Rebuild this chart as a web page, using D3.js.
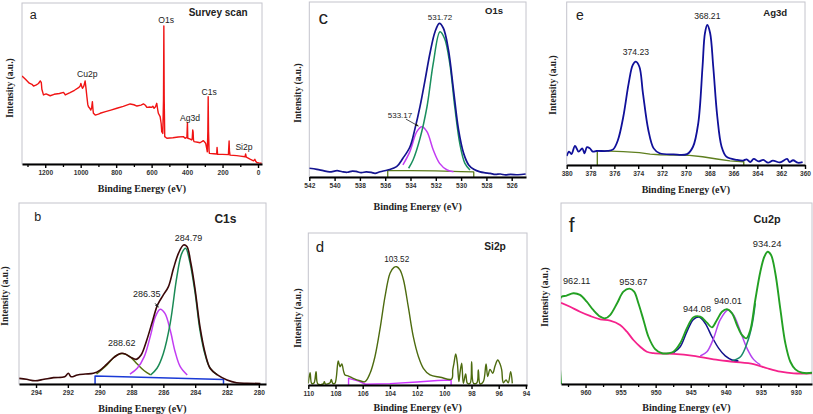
<!DOCTYPE html>
<html><head><meta charset="utf-8">
<script src="https://cdn.jsdelivr.net/npm/d3@7"></script>
<style>body{margin:0;background:#fff}svg{display:block}</style>
</head><body><svg id="chart" width="813" height="414"></svg>
<script>
// ---------- DATA (binding energy eV, intensity % of panel height) ----------
const surveyScan = [[1331,54.7],[1310,52.5],[1290,50.2],[1275,49.5],[1266,48.4],[1250,49.2],[1238,50],[1228,51.6],[1222,50.5],[1219,46.4],[1210,42.9],[1195,43.5],[1172,42.4],[1150,43.3],[1120,43.8],[1097,44.5],[1090,43.5],[1087,42.9],[1060,44.3],[1035,45.8],[1012,47.4],[1003,48.4],[999,50.1],[994,48.2],[990,47],[982,48.5],[975,51.6],[970,47],[965,41.8],[960,37],[956,35.6],[950,34.8],[943,33.5],[938,35],[934,38.7],[930,33],[928,31.5],[918,30.4],[900,31],[890,31.5],[860,32.5],[830,33.5],[796,34.6],[760,35.8],[721,37.3],[700,36.8],[683,36],[660,36.6],[646,37.3],[635,36.5],[627,35.2],[610,35.4],[599,35.2],[593,35.9],[586,34.6],[578,35.5],[571,37.7],[566,34],[562,31.5],[552,29.4],[546,25],[543,20.1],[537,19],[533,40],[531,85.7],[529,40],[526,17],[514,16],[480,16.3],[450,16.8],[421,17],[411,16],[401,16.5],[398,25.7],[396,16],[385,15.6],[374,14.9],[371,16],[368,21.1],[366,20],[364,15],[361,13.9],[340,13.5],[327,13.2],[315,14],[308,14.5],[300,13.5],[295,12.8],[290,10],[286,7.6],[283,20],[281,41.8],[279,20],[276,8],[274,6.6],[250,6.4],[233,6.2],[231,10.3],[228,6],[200,6],[167,5.8],[165,10],[163,14.3],[161,8],[158,5.5],[120,5.2],[100,4.9],[73,4.5],[70,6.2],[66,4.2],[45,3],[25,2],[18,2.9],[12,1.5],[7,0.9],[-5,0.7],[-20,0.5]];

const o1sEnvelope = [[542,5],[541.4,4.4],[540.9,3.6],[540.4,2.9],[539.8,3.6],[539.4,3],[539,2.7],[538.6,3.4],[538.3,3.2],[537.9,2.5],[537.5,2.9],[537.1,2.6],[536.8,2.1],[536.4,3],[535.8,4],[535.1,5.9],[534.6,10.7],[534.04,17.3],[533.64,27.8],[533.25,40.2],[532.85,55.4],[532.46,70.7],[532.06,83],[531.72,87.8],[531.4,85],[531,72.6],[530.6,49.7],[530.2,26.9],[529.8,13.5],[529.4,6.9],[529,4.4],[528.5,2.9],[528.1,2.4],[527.7,2.1],[527.3,1.5],[526.9,1.7],[526.5,1.2],[526.1,1.5],[525.5,1.3],[524.9,1.7]];
const o1sLattice = [[534.15,5],[533.8,9.7],[533.25,22],[532.7,40],[532.2,65],[531.67,83],[531.3,79],[530.9,65],[530.5,40],[530.1,19],[529.7,7.8],[529.3,4]];
const o1sHydroxyl = [[534.6,6.9],[534.05,14.5],[533.5,25.9],[533.1,28.7],[532.7,25.9],[532.2,15.4],[531.7,7.8],[531.1,4],[530.6,3]];
const o1sBackground = [[535.8,0],[535.8,3.6],[534,3.7],[532,3.5],[530,3.1],[529,2.9],[529,0]];

const ag3dSpectrum = [[380,5.5],[379.8,8.2],[379.6,6.7],[379.3,11.7],[379.0,8.2],[378.7,10.2],[378.5,7.2],[378.3,11],[378.05,10.2],[377.8,8.2],[377.5,8.6],[376.6,8.6],[376.1,9.6],[375.7,15.3],[375.25,29.6],[374.8,50.1],[374.46,61.3],[374.2,63.4],[373.9,60.3],[373.6,44],[373.15,21.5],[372.7,10.2],[372.2,7.2],[371.05,6.5],[369.9,6.7],[369.4,11.2],[368.96,25.6],[368.6,60.3],[368.4,80.8],[368.2,85.9],[367.96,80.8],[367.7,60.3],[367.36,29.6],[367.0,11.2],[366.6,5.1],[365.7,3.1],[365.2,2.7],[364.9,3.5],[364.6,1.8],[364.3,3.7],[363.9,2.2],[363.5,3.1],[363.1,1.4],[362.7,2.7],[362.1,1.6],[361.5,3.7],[361.3,1.8],[361,2.9],[360.6,1.4],[360.2,1.8]];
const ag3dBackground = [[377.43,0],[377.43,8.8],[375.25,8.2],[373.9,7.6],[373,6.7],[372.2,6.3],[369.7,5.9],[368.6,5.1],[367.4,3.7],[366.3,2.5],[365.14,2.0],[365.14,0]];

const c1sEnvelope = [[295.05,3.1],[294.6,2.6],[294.06,1.8],[293.5,2.6],[292.9,3.5],[292.2,4.0],[291.97,5.9],[291.8,4.0],[291.4,5.0],[290.9,5.5],[290.4,5.9],[289.97,7.7],[289.55,11],[289.1,14.7],[288.7,16.9],[288.4,16.6],[288.04,14.7],[287.7,13.6],[287.4,16],[287.04,24.3],[286.66,35.4],[286.37,43.6],[286.0,49.2],[285.68,53.8],[285.36,63.9],[285.05,72.2],[284.73,76.8],[284.52,75.9],[284.27,66.7],[284.0,51.9],[283.7,31.7],[283.37,16.9],[283.06,8.7],[282.6,5],[282.0,2.2],[281.4,0.7],[280.75,0.4],[279.9,0.3]];
const c1sCarboxyl = [[290.2,5.5],[289.55,10.5],[289.0,15.5],[288.55,16.9],[288.1,15.1],[287.64,11],[287.2,7.3],[286.8,5]];
const c1sHydroxyl = [[288.1,5.5],[287.64,8.7],[287.2,15.1],[286.8,27],[286.5,37.2],[286.2,41.3],[285.9,39],[285.57,29.8],[285.26,17.8],[284.94,9.6],[284.5,5]];
const c1sGraphitic = [[286.8,5],[286.4,8.7],[286.0,16.9],[285.57,33.5],[285.15,59.3],[284.84,72.2],[284.6,75],[284.36,68.5],[284.0,50.1],[283.7,29.8],[283.37,16],[283.06,8.7],[282.6,5]];
const c1sBackground = [[290.29,0],[290.29,4.4],[282.22,2.5],[282.22,0]];

const si2pSpectrum = [[110,1.1],[109.87,8.1],[109.75,1.1],[109.58,1.3],[109.43,8.8],[109.3,0.7],[108.9,0.7],[108.82,2.2],[108.75,0.7],[108.4,1.5],[108.31,3.7],[108.2,1.1],[108.04,1.1],[107.8,15.8],[107.67,12],[107.54,13.8],[107.4,8.8],[107.3,6.6],[107.04,5.9],[106.7,4.4],[106.2,2.8],[105.83,2.2],[105.46,7.7],[105.1,18.6],[104.7,38.4],[104.36,58.1],[103.99,73.5],[103.7,77.4],[103.5,77.8],[103.26,75.7],[103.0,69.1],[102.65,51.5],[102.28,31.8],[101.9,18.6],[101.54,11],[101.05,6.6],[100.3,5.1],[99.46,3.9],[99.38,9.9],[99.29,14.3],[99.16,20.4],[99.04,14.3],[98.93,2.2],[98.85,7.7],[98.72,14.3],[98.6,1.1],[98.43,7.2],[98.3,1.1],[98.1,1.1],[97.99,15.4],[97.85,1.1],[97.6,1.5],[97.5,9.9],[97.37,0.7],[97.13,2.2],[96.93,13.8],[96.81,5.5],[96.64,10.3],[96.44,7.7],[96.27,12.5],[96.07,16.4],[95.9,13.8],[95.78,9.9],[95.66,1.5],[95.46,3.3],[95.3,1.5],[95.12,8.8],[95.0,1.1]];
const si2pBackground = [[107.04,0],[107.04,4.4],[106.3,2.5],[105.8,0.5],[104,0.9],[102,2],[100.5,3],[99.5,3.3],[99.5,0]];

const cu2pEnvelope = [[963.5,0],[963.5,47.9],[962.7,48.8],[961.74,50.1],[960.79,49.2],[959.83,45.5],[958.9,40.9],[957.9,37.2],[957.2,36.3],[956.5,38.1],[955.5,44.6],[954.6,51],[953.74,52.7],[953.07,51],[952.46,44.6],[951.74,35.4],[951.03,26.1],[950.07,19.3],[949.1,17],[948.17,17],[947.46,17.8],[946.5,22.5],[945.54,30.8],[944.6,36.9],[943.64,37.2],[942.69,33.9],[941.97,31.3],[941.26,35.4],[940.54,39.9],[939.83,41.3],[939.1,39],[938.4,32.6],[937.7,27.1],[937.07,25.2],[936.5,29.8],[935.79,46.4],[935.07,62],[934.5,70.3],[934.03,73.1],[933.54,71.3],[932.93,61.2],[932.2,40.9],[931.5,22.5],[930.79,12.3],[930.07,8.1],[929.1,6.2],[927.7,6.2]];
const cu2pBackground = [[963.5,44.9],[962.2,42.7],[960.79,39.9],[959.36,37.6],[957.9,35.7],[956.5,35],[955.07,32.6],[954.1,28.9],[953.17,24.3],[952.2,20.6],[951.26,17.8],[950.3,17],[947.46,16.6],[944.6,15.5],[941.74,13.6],[938.9,12.3],[936.04,11],[934.1,8.7],[932.2,6.8],[930.3,5.9],[927.7,5.9]];
const cu2pSatelliteA = [[947.46,17.3],[946.5,20.6],[945.54,28.9],[944.6,35.7],[943.74,36.9],[942.93,33.5],[941.97,26.1],[941.0,19.7],[940.07,15.5],[939.1,13.3],[938.2,12.9]];
const cu2pSatelliteB = [[943.64,15.5],[942.69,17.8],[941.74,25.2],[940.8,35.4],[939.69,40.9],[938.9,38.1],[937.9,28.9],[936.97,19.7],[936.04,13.6],[935.07,10.5]];
const cu2pMainTail = [[939.1,12.9],[937.9,15.1],[936.97,22.5],[936.25,32.6],[935.79,44.6]];

const surveyTicks = [1200,1000,800,600,400,200,0];
const surveyMinor = [1300,1100,900,700,500,300,100];
const o1sTicks = [542,540,538,536,534,532,530,528,526];
const ag3dTicks = [380,378,376,374,372,370,368,366,364,362,360];
const c1sTicks = [294,292,290,288,286,284,282,280];
const si2pTicks = [110,108,106,104,102,100,98,96,94];
const cu2pTicks = [960,955,950,945,940,935,930];
const cu2pMinor = [962.5,957.5,952.5,947.5,942.5,937.5,932.5];

const xTitle = "Binding Energy (eV)";
const yTitle = "Intensity (a.u.)";

// ---------- LAYOUT ----------
const panels = [
 {box:{l:22,r:262,t:3,b:164}, dom:[1331,-22.5], ticks:surveyTicks, minor:surveyMinor, xt:188, yt:[10,88],
  series:[{d:surveyScan,c:"#f01414",w:1.4,lin:true}],
  texts:[{t:"a",x:1268,y:92.5,s:12.5},{t:"Survey scan",x:225,y:94.4,s:10,b:1},{t:"O1s",x:518,y:89.4,s:8.6},
         {t:"Cu2p",x:963,y:55.9,s:8.6},{t:"C1s",x:276,y:44.7,s:8.6},{t:"Ag3d",x:383,y:28.6,s:8.6},{t:"Si2p",x:79,y:10.6,s:8.6}]},
 {box:{l:309.3,r:526,t:2,b:177}, dom:[542,524.87], ticks:o1sTicks, minor:[], xt:206, yt:[298,93],
  series:[{d:o1sBackground,c:"#5b7a1a",w:1.3,lin:true},{d:o1sHydroxyl,c:"#c23cf2",w:1.5},{d:o1sLattice,c:"#1a8f5e",w:1.5},{d:o1sEnvelope,c:"#141490",w:1.7}],
  texts:[{t:"c",x:540.9,y:91,s:19},{t:"O1s",x:527.4,y:94.9,s:9.5,b:1},{t:"531.72",x:531.67,y:91.6,s:8},{t:"533.17",x:534.83,y:35.4,s:8}],
  arrow:[[534.36,33.1],[533.38,29.1]]},
 {box:{l:566.7,r:805,t:2,b:165}, dom:[380,360], ticks:ag3dTicks, minor:[], xt:189, yt:[553,85],
  series:[{d:ag3dBackground,c:"#5f7f1f",w:1.4,lin:true},{d:ag3dSpectrum,c:"#10109a",w:1.8}],
  texts:[{t:"e",x:378.9,y:92,s:14},{t:"Ag3d",x:362.5,y:93.4,s:9.6,b:1},{t:"374.23",x:374.2,y:69.3,s:8.6},{t:"368.21",x:368.2,y:91.4,s:8.6}]},
 {box:{l:19,r:266,t:203,b:384}, dom:[295.07,279.55], ticks:c1sTicks, minor:[], xt:408, yt:[5,296],
  series:[{d:c1sBackground,c:"#1a3ad6",w:1.5,lin:true},{d:c1sCarboxyl,c:"#55700f",w:1.5},{d:c1sHydroxyl,c:"#c23cf2",w:1.5},{d:c1sGraphitic,c:"#1a8a55",w:1.5},{d:c1sEnvelope,c:"#3a0808",w:1.6}],
  texts:[{t:"b",x:293.9,y:92.3,s:12.5},{t:"C1s",x:282.1,y:91.5,s:12,b:1},{t:"284.79",x:284.42,y:80.5,s:9},{t:"286.35",x:287.04,y:49.6,s:9},{t:"288.62",x:288.61,y:22.5,s:9}],
  arrow:[[286.52,44.6],[286.31,42.4]]},
 {box:{l:308.3,r:527,t:233,b:385}, dom:[110,93.92], ticks:si2pTicks, minor:[], xt:407, yt:[298,318],
  series:[{d:si2pBackground,c:"#cc33ff",w:1.4,lin:true},{d:si2pSpectrum,c:"#4d6b0f",w:1.4}],
  texts:[{t:"d",x:109.14,y:90.8,s:15},{t:"Si2p",x:96.27,y:91,s:10.3,b:1},{t:"103.52",x:103.5,y:82.7,s:8.2}]},
 {box:{l:561,r:812,t:203,b:384}, dom:[963.5,927.7], ticks:cu2pTicks, minor:cu2pMinor, xt:407, yt:[545,297],
  series:[{d:cu2pBackground,c:"#f5228c",w:1.8},{d:cu2pSatelliteA,c:"#12128c",w:1.5},{d:cu2pSatelliteB,c:"#b444f0",w:1.5},{d:cu2pMainTail,c:"#1a8a6a",w:1.5},{d:cu2pEnvelope,c:"#23a023",w:1.9}],
  texts:[{t:"f",x:961.97,y:87.8,s:21},{t:"Cu2p",x:934.11,y:91.2,s:10.8,b:1},{t:"934.24",x:934.11,y:77.7,s:9.4},{t:"962.11",x:961.26,y:57.1,s:9.2},
         {t:"953.67",x:953.17,y:56.2,s:9.2},{t:"944.08",x:944.11,y:41.8,s:9.2},{t:"940.01",x:939.69,y:46,s:9.2}]}
];

const svg = d3.select("#chart");
const defs = svg.append("defs");
defs.append("marker").attr("id","arr").attr("viewBox","0 0 10 10").attr("refX",9).attr("refY",5)
  .attr("markerWidth",5).attr("markerHeight",5).attr("orient","auto")
  .append("path").attr("d","M0,1L10,5L0,9z").attr("fill","#222");

panels.forEach((p,i)=>{
  const {l,r,t,b} = p.box;
  const x = d3.scaleLinear().domain(p.dom).range([l,r]);
  const y = d3.scaleLinear().domain([0,100]).range([b,t]);
  const g = svg.append("g");
  defs.append("clipPath").attr("id","cp"+i).append("rect").attr("x",l).attr("y",t-2).attr("width",r-l).attr("height",b-t+2);
  g.append("rect").attr("x",l).attr("y",t).attr("width",r-l).attr("height",b-t)
    .attr("fill","none").attr("stroke","#c4c4cc").attr("stroke-width",1);
  const cg = g.append("g").attr("clip-path","url(#cp"+i+")");
  p.series.forEach(s=>{
    const line = d3.line().x(d=>x(d[0])).y(d=>y(d[1])).curve(s.lin?d3.curveLinear:d3.curveCatmullRom.alpha(0.5));
    cg.append("path").attr("d",line(s.d)).attr("fill","none").attr("stroke",s.c)
      .attr("stroke-width",s.w).attr("stroke-linejoin","round");
  });
  if (p.minor.length){
    const am = g.append("g").attr("transform",`translate(0,${b})`)
      .call(d3.axisBottom(x).tickValues(p.minor).tickSize(3).tickSizeOuter(0).tickFormat(""));
    am.select(".domain").remove();
    am.selectAll("line").attr("stroke","#000").attr("stroke-width",1.3);
  }
  const ax = g.append("g").attr("transform",`translate(0,${b})`)
    .call(d3.axisBottom(x).tickValues(p.ticks).tickSize(4).tickSizeOuter(0).tickPadding(2).tickFormat(d3.format("d")));
  ax.select(".domain").attr("stroke","#000").attr("stroke-width",2.2);
  ax.selectAll("line").attr("stroke","#000").attr("stroke-width",1.4);
  ax.selectAll("text").attr("font-family","Liberation Sans, Arial, sans-serif").attr("font-size",6.6)
    .attr("font-weight","bold").attr("fill","#333");
  g.append("text").attr("x",(l+r)/2).attr("y",p.xt).attr("dy","0.35em").attr("text-anchor","middle")
    .attr("font-family","Liberation Serif, Times New Roman, serif").attr("font-weight","bold")
    .attr("font-size",10).attr("fill","#222").text(xTitle);
  g.append("text").attr("transform",`translate(${p.yt[0]},${p.yt[1]}) rotate(-90)`).attr("dy","0.35em")
    .attr("text-anchor","middle").attr("font-family","Liberation Serif, Times New Roman, serif")
    .attr("font-weight","bold").attr("font-size",9.5).attr("fill","#222").text(yTitle);
  p.texts.forEach(tx=>{
    g.append("text").attr("x",x(tx.x)).attr("y",y(tx.y)).attr("dy","0.35em").attr("text-anchor","middle")
      .attr("font-family","Liberation Sans, Arial, sans-serif").attr("font-size",tx.s)
      .attr("font-weight",tx.b?"bold":"normal").attr("fill","#222").text(tx.t);
  });
  if (p.arrow){
    g.append("line").attr("x1",x(p.arrow[0][0])).attr("y1",y(p.arrow[0][1]))
      .attr("x2",x(p.arrow[1][0])).attr("y2",y(p.arrow[1][1]))
      .attr("stroke","#222").attr("stroke-width",0.8).attr("marker-end","url(#arr)");
  }
});
</script></body></html>
